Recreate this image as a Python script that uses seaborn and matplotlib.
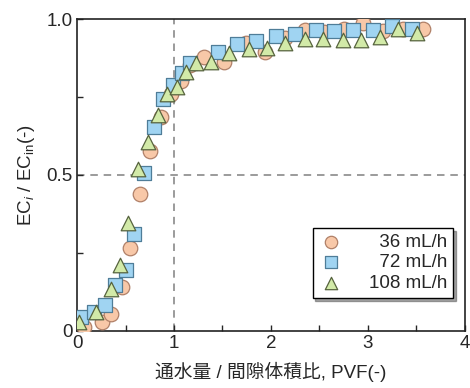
import numpy as np
import pandas as pd
import matplotlib
matplotlib.use("Agg")
import matplotlib.pyplot as plt
from matplotlib.ticker import MultipleLocator
import seaborn as sns

# 36 mL/h (circles)
X_36 = [0.07, 0.26, 0.35, 0.46, 0.55, 0.65, 0.75, 0.87, 0.97, 1.07, 1.16, 1.31,
        1.52, 1.74, 1.94, 2.15, 2.35, 2.55, 2.75, 2.95, 3.16, 3.36, 3.57]
Y_36 = [0.013, 0.03, 0.055, 0.14, 0.265, 0.44, 0.578, 0.687, 0.76, 0.80, 0.853, 0.877,
        0.863, 0.922, 0.895, 0.938, 0.965, 0.957, 0.967, 0.986, 0.96, 0.967, 0.967]

# 72 mL/h (squares)
X_72 = [0.04, 0.17, 0.29, 0.39, 0.50, 0.59, 0.69, 0.79, 0.89, 0.985, 1.08, 1.16,
        1.45, 1.65, 1.85, 2.05, 2.25, 2.46, 2.65, 2.85, 3.05, 3.25, 3.46]
Y_72 = [0.045, 0.06, 0.083, 0.147, 0.195, 0.31, 0.507, 0.655, 0.742, 0.788, 0.828, 0.858,
        0.893, 0.919, 0.93, 0.946, 0.951, 0.965, 0.96, 0.965, 0.965, 0.979, 0.967]

# 108 mL/h (triangles)
X_108 = [0.02, 0.2, 0.35, 0.44, 0.53, 0.63, 0.73, 0.83, 0.93, 1.03, 1.12, 1.23,
         1.38, 1.57, 1.77, 1.96, 2.15, 2.35, 2.54, 2.74, 2.93, 3.12, 3.31, 3.51]
Y_108 = [0.03, 0.062, 0.135, 0.21, 0.347, 0.518, 0.607, 0.692, 0.759, 0.783, 0.831, 0.858,
         0.863, 0.89, 0.903, 0.906, 0.922, 0.936, 0.936, 0.933, 0.933, 0.941, 0.968, 0.954]

LABELS = ["36 mL/h", "72 mL/h", "108 mL/h"]
X_TICKS = [0, 1, 2, 3, 4]
Y_TICKS = [0, 0.5, 1.0]
Y_TICKLABELS = ["0", "0.5", "1.0"]

STYLES = {
    "36 mL/h": dict(marker="o", fc="#f8c8a8", ec="#b08068"),
    "72 mL/h": dict(marker="s", fc="#a0d4f2", ec="#4f7d98"),
    "108 mL/h": dict(marker="^", fc="#d2eaa8", ec="#56633e"),
}
FS = 13.5

sns.set_theme(style="ticks")
plt.rcParams["font.family"] = ["Liberation Sans", "Noto Sans CJK JP", "DejaVu Sans"]
plt.rcParams["xtick.direction"] = "in"
plt.rcParams["ytick.direction"] = "in"
plt.rcParams["mathtext.fontset"] = "custom"
plt.rcParams["mathtext.rm"] = "Liberation Sans"
plt.rcParams["mathtext.it"] = "Liberation Sans:italic"


def main():
    df = pd.concat([
        pd.DataFrame({"pvf": X_36, "ec": Y_36, "rate": LABELS[0]}),
        pd.DataFrame({"pvf": X_72, "ec": Y_72, "rate": LABELS[1]}),
        pd.DataFrame({"pvf": X_108, "ec": Y_108, "rate": LABELS[2]}),
    ], ignore_index=True)

    fig = plt.figure(figsize=(4.7, 3.88), dpi=100)
    ax = fig.add_axes([0.164, 0.147, 0.825, 0.804])

    ax.axvline(1, color="#8a8a8a", ls=(0, (4.5, 3.5)), lw=1.2, zorder=0)
    ax.axhline(0.5, color="#8a8a8a", ls=(0, (4.5, 3.5)), lw=1.2, zorder=0)

    # pad shorter labels with a figure space so the legend text lines up on the right
    width = max(len(l) for l in LABELS)
    for lab in LABELS:
        st = STYLES[lab]
        shown = "\u2007" * (width - len(lab)) + lab
        sns.scatterplot(
            data=df[df["rate"] == lab], x="pvf", y="ec", ax=ax,
            marker=st["marker"], color=st["fc"], edgecolor=st["ec"],
            linewidth=0.9, s=110, label=shown, zorder=3,
        )

    ax.set_xlim(0, 4)
    ax.set_ylim(0, 1.0)
    ax.set_xticks(X_TICKS)
    ax.set_yticks(Y_TICKS)
    ax.set_yticklabels(Y_TICKLABELS)
    ax.xaxis.set_minor_locator(MultipleLocator(0.5))
    ax.yaxis.set_minor_locator(MultipleLocator(0.25))
    ax.tick_params(which="both", length=4, width=1, labelsize=FS, pad=3)
    for sp in ax.spines.values():
        sp.set_linewidth(1.2)
        sp.set_color("#222222")

    ax.set_xlabel("通水量 / 間隙体積比, PVF(-)", fontsize=FS, labelpad=7)
    ax.set_ylabel(r"EC$_\mathit{i}$ / EC$_\mathrm{in}$(-)", fontsize=FS, labelpad=7)

    leg = ax.legend(loc="lower right", bbox_to_anchor=(0.969, 0.106), borderaxespad=0,
                    frameon=True, fancybox=False, shadow=True, edgecolor="black",
                    fontsize=FS, handletextpad=1.3, borderpad=0.3,
                    labelspacing=0.2, handlelength=1.4, markerscale=0.85)
    leg.get_frame().set_linewidth(1.0)

    fig.savefig("out.png", dpi=100)
    plt.close(fig)


if __name__ == "__main__":
    main()
